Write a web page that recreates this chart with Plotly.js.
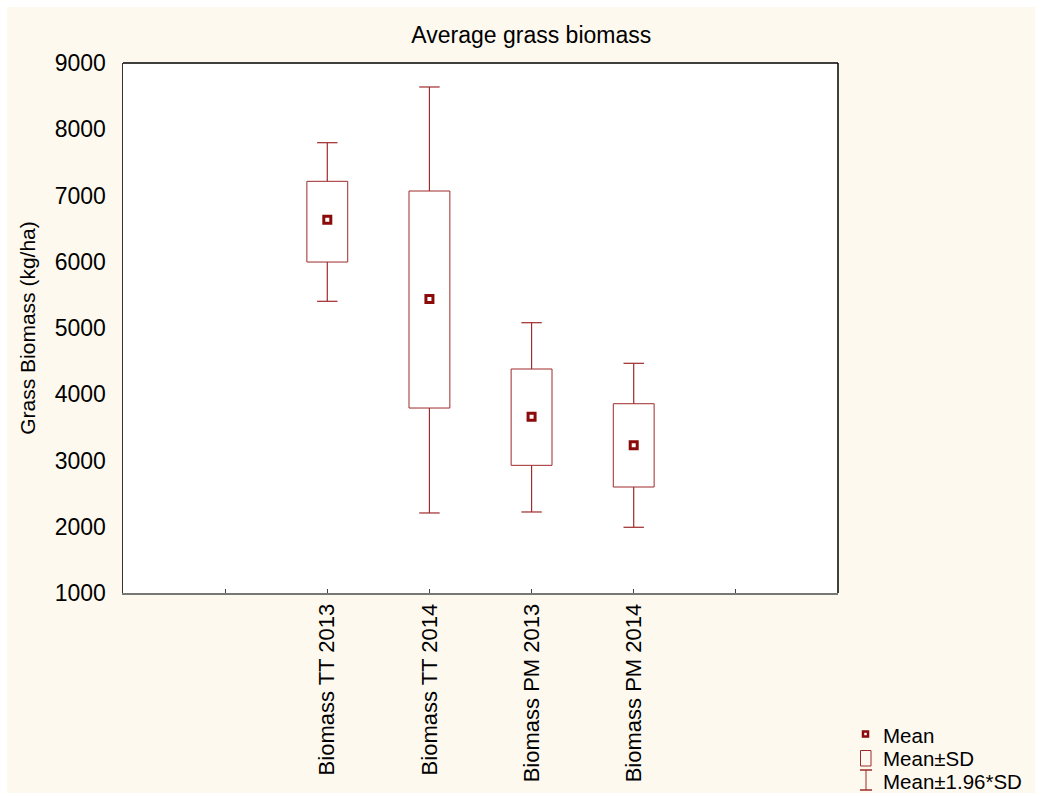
<!DOCTYPE html>
<html>
<head>
<meta charset="utf-8">
<script src="https://cdn.plot.ly/plotly-3.0.1.min.js"></script>
<style>
  html, body { margin: 0; padding: 0; background: #ffffff; }
  #plot { position: absolute; left: 7px; top: 7px; width: 1028px; height: 786px; }
</style>
</head>
<body>
<div id="plot"></div>
<script>
// ---- data ----
const categories = ['Biomass TT 2013', 'Biomass TT 2014', 'Biomass PM 2013', 'Biomass PM 2014'];
const means      = [6635, 5438, 3661, 3229];
const sdLow      = [5996, 3792, 2927, 2600];   // Mean - SD
const sdHigh     = [7214, 7068, 4381, 3857];   // Mean + SD
const ciLow      = [5403, 2208, 2223, 1992];   // Mean - 1.96*SD
const ciHigh     = [7797, 8638, 5080, 4467];   // Mean + 1.96*SD
const legendLabels = ['Mean', 'Mean±SD', 'Mean±1.96*SD'];
const yTicks = [1000, 2000, 3000, 4000, 5000, 6000, 7000, 8000, 9000];

// axis slots: an empty slot either side of the categories (as in the original axis)
const slots = ['', ...categories, ''];
const slotPos = slots.map((_, i) => i);
const catPos = categories.map(c => slots.indexOf(c));

const RED = '#8B0A0A';
const LINE = '#9E2A2A';
const FONT = 'Liberation Sans, Arial, sans-serif';
const BOX_W = 0.4, CAP_HALF = 0.1;

// boxes: Mean±SD
const boxTrace = {
  type: 'bar',
  x: catPos,
  base: sdLow,
  y: sdHigh.map((h, i) => h - sdLow[i]),
  width: BOX_W,
  marker: { color: '#ffffff', line: { color: LINE, width: 1 } },
  hoverinfo: 'skip',
  showlegend: false
};

// whiskers: Mean±1.96*SD (from box edge to cap, plus cap)
const wx = [], wy = [];
catPos.forEach((x, i) => {
  wx.push(x, x, null, x - CAP_HALF, x + CAP_HALF, null);
  wy.push(sdHigh[i], ciHigh[i], null, ciHigh[i], ciHigh[i], null);
  wx.push(x, x, null, x - CAP_HALF, x + CAP_HALF, null);
  wy.push(sdLow[i], ciLow[i], null, ciLow[i], ciLow[i], null);
});
const whiskerTrace = {
  type: 'scatter', mode: 'lines', x: wx, y: wy,
  line: { color: LINE, width: 1.2 },
  connectgaps: false, hoverinfo: 'skip', showlegend: false
};

const meanTrace = {
  type: 'scatter',
  mode: 'markers',
  x: catPos,
  y: means,
  marker: { symbol: 'square', size: 7, color: '#ffffff', line: { color: RED, width: 3 } },
  hoverinfo: 'skip',
  showlegend: false
};

// plot area in page pixels (for legend placement)
const PL = 123, PR = 838, PT = 63, PB = 593;
const px = v => (v - PL) / (PR - PL);
const py = v => (PB - v) / (PB - PT);

const legendRowsY = [735, 758, 781];

const annotations = legendLabels.map((t, i) => ({
  text: t, xref: 'paper', yref: 'paper',
  x: px(881), y: py(legendRowsY[i]), xanchor: 'left', yanchor: 'middle',
  showarrow: false, font: { family: FONT, size: 20.5, color: '#000' }
}));

const shapes = [
  // top and right frame (black)
  { type: 'line', xref: 'paper', yref: 'paper', x0: 0, x1: 1, y0: 1, y1: 1, line: { color: '#000', width: 1.5 } },
  { type: 'line', xref: 'paper', yref: 'paper', x0: 1, x1: 1, y0: 0, y1: 1, line: { color: '#000', width: 1.5 } },
  // legend icon: mean
  { type: 'rect', xref: 'paper', yref: 'paper', x0: px(863), x1: px(868), y0: py(731.5), y1: py(736.5),
    fillcolor: '#ffffff', line: { color: RED, width: 2.5 } },
  // legend icon: Mean±SD box
  { type: 'rect', xref: 'paper', yref: 'paper', x0: px(860.5), x1: px(871), y0: py(750.5), y1: py(766),
    fillcolor: 'rgba(0,0,0,0)', line: { color: LINE, width: 1 } },
  // legend icon: whisker I-beam
  { type: 'line', xref: 'paper', yref: 'paper', x0: px(866), x1: px(866), y0: py(770), y1: py(790), line: { color: LINE, width: 1 } },
  { type: 'line', xref: 'paper', yref: 'paper', x0: px(860), x1: px(872), y0: py(770), y1: py(770), line: { color: LINE, width: 1.5 } },
  { type: 'line', xref: 'paper', yref: 'paper', x0: px(860), x1: px(872), y0: py(790), y1: py(790), line: { color: LINE, width: 1.5 } }
];

const layout = {
  width: 1028, height: 786,
  paper_bgcolor: '#FEF9EF',
  plot_bgcolor: '#ffffff',
  margin: { l: 116, r: 197, t: 56, b: 200, pad: 0 },
  showlegend: false,
  barmode: 'overlay',
  title: {
    text: 'Average grass biomass',
    font: { family: FONT, size: 23, color: '#000' },
    xref: 'container', yref: 'container',
    x: 0.51, y: 1 - (35 - 7) / 786, xanchor: 'center', yanchor: 'middle'
  },
  xaxis: {
    range: [-1, slots.length],
    tickmode: 'array',
    tickvals: slotPos,
    ticktext: slots,
    tickangle: -90,
    ticks: 'inside', ticklen: 4, tickcolor: '#444', tickwidth: 1,
    tickfont: { family: FONT, size: 22, color: '#000' },
    showline: true, linecolor: '#777', linewidth: 2,
    showgrid: false, zeroline: false,
    fixedrange: true
  },
  yaxis: {
    range: [yTicks[0], yTicks[yTicks.length - 1]],
    tickvals: yTicks,
    ticktext: yTicks.map(String),
    ticks: '',
    ticklabelstandoff: 11,
    tickfont: { family: FONT, size: 23, color: '#000' },
    showline: true, linecolor: '#333', linewidth: 1.5,
    showgrid: false, zeroline: false,
    title: { text: 'Grass Biomass (kg/ha)', font: { family: FONT, size: 21, color: '#000' }, standoff: 13 },
    fixedrange: true
  },
  annotations: annotations,
  shapes: shapes
};

Plotly.newPlot('plot', [boxTrace, whiskerTrace, meanTrace], layout, { displayModeBar: false, staticPlot: true });
</script>
</body>
</html>
